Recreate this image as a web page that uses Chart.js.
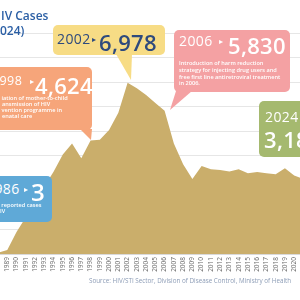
<!DOCTYPE html>
<html>
<head>
<meta charset="utf-8">
<script src="https://cdn.jsdelivr.net/npm/chart.js@4.4.1/dist/chart.umd.min.js"></script>
<style>
  html, body { margin: 0; padding: 0; background: #fff; }
  body { width: 300px; height: 300px; overflow: hidden; position: relative; font-family: "Open Sans", sans-serif; }
  #wrap { position: absolute; left: -42px; top: 0; width: 384px; height: 300px; }
  .t { position: absolute; white-space: nowrap; line-height: 1; }
  .box { position: absolute; border-radius: 5px; }
  .ptr { position: absolute; left: 0; top: 0; width: 300px; height: 300px; }
  .yr { font-size: 14px; font-weight: 500; letter-spacing: 0.4px; }
  .big { font-size: 22px; font-weight: 600; letter-spacing: 0.3px; }
  .note { font-size: 5.6px; font-weight: 600; color: #fff; }
  .arr { font-size: 8px; }
</style>
</head>
<body>
<div id="wrap"><canvas id="hiv-chart" width="384" height="300"></canvas></div>

<!-- title (cropped in the original) -->
<div class="t" style="left:1px;top:9.5px;font-size:12px;font-weight:600;color:#2b5fa5;">IV Cases</div>
<div class="t" style="left:0px;top:24.5px;font-size:12px;font-weight:600;color:#2b5fa5;">024)</div>

<!-- callout pointers -->
<div class="ptr" style="background:#f7dc85;clip-path:polygon(116px 54px,132px 54px,131px 80px);"></div>
<div class="ptr" style="background:#f6a57a;clip-path:polygon(80px 129px,92px 129px,91px 140px);"></div>
<div class="ptr" style="background:#f4a1a3;clip-path:polygon(176px 91px,192px 91px,170px 110px);"></div>

<!-- callout boxes -->
<div class="box" style="left:53px;top:25px;width:112px;height:30px;background:#f7dc85;"></div>
<div class="box" style="left:-10px;top:67px;width:102px;height:63px;background:#f6a57a;"></div>
<div class="box" style="left:174px;top:30px;width:116px;height:62px;background:#f4a1a3;"></div>
<div class="box" style="left:259px;top:101px;width:60px;height:56px;background:#a5b96f;"></div>
<div class="box" style="left:-10px;top:176px;width:62px;height:46px;background:#5fa9d7;"></div>

<!-- 2002 -->
<div class="t yr" style="left:57px;top:32px;color:#2e4a7d;">2002</div>
<div class="t arr" style="left:92px;top:35px;color:#2e4a7d;">&#9656;</div>
<div class="t big" id="lbl2002" style="left:99px;top:30.5px;color:#2e4a7d;"></div>

<!-- 1998 -->
<div class="t yr" style="left:-8px;top:74.5px;font-size:12.5px;color:#fff;">1998</div>
<div class="t arr" style="left:30px;top:77px;color:#fff;">&#9656;</div>
<div class="t big" id="lbl1998" style="left:35px;top:73.5px;color:#fff;"></div>
<div class="t note" style="left:1.5px;top:96.3px;">iation of mother-to-child</div>
<div class="t note" style="left:2px;top:102px;">ansmission of HIV</div>
<div class="t note" style="left:1.5px;top:107.7px;">vention programme in</div>
<div class="t note" style="left:2px;top:113.5px;">enatal care</div>

<!-- 2006 -->
<div class="t yr" style="left:179px;top:34px;color:#fff;">2006</div>
<div class="t arr" style="left:219px;top:37px;color:#fff;">&#9656;</div>
<div class="t big" id="lbl2006" style="left:228px;top:33.5px;color:#fff;"></div>
<div class="t note" style="left:179px;top:61.3px;">Introduction of harm reduction</div>
<div class="t note" style="left:179px;top:68px;">strategy for injecting drug users and</div>
<div class="t note" style="left:179px;top:74.7px;">free first line antiretroviral treatment</div>
<div class="t note" style="left:179px;top:81.3px;">in 2006.</div>

<!-- 2024 -->
<div class="t yr" style="left:265px;top:109.5px;color:#fff;">2024</div>
<div class="t big" id="lbl2024" style="left:264px;top:127.5px;color:#fff;"></div>

<!-- 1986 -->
<div class="t yr" style="left:-14px;top:181.5px;color:#fff;">1986</div>
<div class="t arr" style="left:24px;top:185px;color:#fff;">&#9656;</div>
<div class="t big" id="lbl1986" style="left:31px;top:179.5px;font-size:24px;color:#fff;"></div>
<div class="t note" style="left:-12px;top:202.5px;">First reported cases</div>
<div class="t note" style="left:-11px;top:209px;">of HIV</div>

<!-- source -->
<div class="t" style="left:89px;top:278px;font-size:6.3px;color:#8c9cb6;">Source: HIV/STI Sector, Division of Disease Control, Ministry of Health</div>

<script>
// Yearly reported HIV cases
const years = ['1984','1985','1986','1987','1988','1989','1990','1991','1992','1993',
  '1994','1995','1996','1997','1998','1999','2000','2001','2002','2003',
  '2004','2005','2006','2007','2008','2009','2010','2011','2012','2013',
  '2014','2015','2016','2017','2018','2019','2020','2021','2022','2023','2024'];
const cases = [0, 1, 3, 12, 50, 160, 900, 1500, 2150, 2750,
  3350, 4050, 4500, 3900, 4624, 4650, 5050, 5750, 6978, 6750,
  6480, 6150, 5830, 4500, 3650, 3050, 3580, 3450, 3420, 3360,
  3450, 3290, 3340, 3290, 3250, 3490, 3200, 3050, 3100, 3250, 3184];
const yTicks = [0, 1000, 2000, 3000, 4000, 5000, 6000, 7000, 8000, 9000];

// callout numbers come from the data
function setLabel(id, year) {
    document.getElementById(id).textContent = cases[years.indexOf(year)].toLocaleString('en-US');
}
setLabel('lbl2002', '2002');
setLabel('lbl1998', '1998');
setLabel('lbl2006', '2006');
setLabel('lbl2024', '2024');
setLabel('lbl1986', '1986');

const ctx = document.getElementById('hiv-chart').getContext('2d');
new Chart(ctx, {
    type: 'line',
    data: {
        labels: years,
        datasets: [{
            data: cases,
            fill: 'origin',
            backgroundColor: '#caae6b',
            borderWidth: 0,
            pointRadius: 0,
            tension: 0
        }]
    },
    options: {
        responsive: false,
        animation: false,
        layout: { autoPadding: false, padding: { top: 33, left: 0, right: 0, bottom: 0 } },
        plugins: { legend: { display: false }, tooltip: { enabled: false } },
        scales: {
            x: {
                grid: { display: false, drawTicks: false },
                border: { color: '#d9d9d9' },
                ticks: {
                    autoSkip: false, minRotation: 90, maxRotation: 90, padding: 3,
                    color: '#666', font: { family: 'Open Sans', size: 6.5 }
                },
                afterFit: function(scale) { scale.height = 46; }
            },
            y: {
                min: yTicks[0],
                max: yTicks[yTicks.length - 1],
                afterBuildTicks: function(scale) { scale.ticks = yTicks.map(v => ({ value: v })); },
                grid: { color: '#e6e6e6', drawTicks: false },
                border: { display: false },
                ticks: { display: false },
                afterFit: function(scale) { scale.width = 0; }
            }
        }
    }
});
</script>
</body>
</html>
